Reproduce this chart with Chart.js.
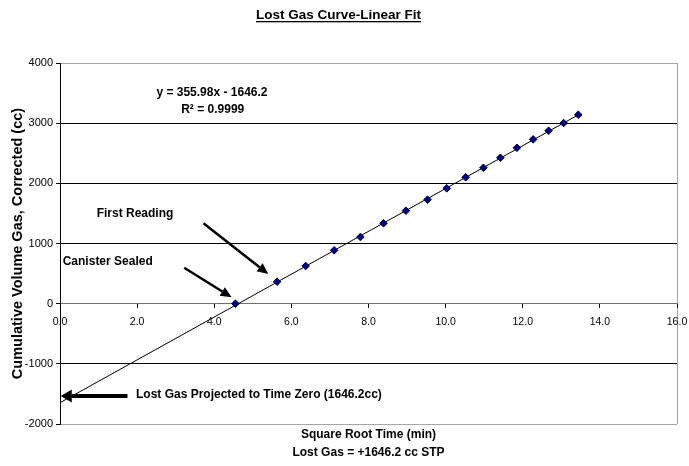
<!DOCTYPE html>
<html><head><meta charset="utf-8">
<script src="https://cdn.jsdelivr.net/npm/chart.js@4"></script>
<style>html,body{margin:0;padding:0;background:#fff}#wrap{width:689px;height:466px;position:relative}</style>
</head><body><div id="wrap"><canvas id="c" width="689" height="466"></canvas></div>
<script>
// ---- data ----
const sqrtTime = [4.55, 5.63, 6.37, 7.11, 7.79, 8.39, 8.97, 9.53, 10.03, 10.52, 10.98, 11.42, 11.85, 12.27, 12.67, 13.06, 13.44];
const cumulativeGas = [0, 365, 626, 887, 1108, 1336, 1545, 1728, 1917, 2100, 2259, 2425, 2591, 2731, 2874, 3002, 3140];
const trendX = [0, 13.44];
const trendY = [-1646.2, 3138.2];
const xTicks = [0, 2, 4, 6, 8, 10, 12, 14, 16];
const yTicks = [-2000, -1000, 0, 1000, 2000, 3000, 4000];
const chartTitle = 'Lost Gas Curve-Linear Fit';
const yTitle = 'Cumulative Volume Gas, Corrected (cc)';
const xTitleLines = ['Square Root Time (min)', 'Lost Gas = +1646.2 cc STP'];
const equationLines = ['y = 355.98x - 1646.2', 'R\u00B2 = 0.9999'];
const noteTexts = ['First Reading', 'Canister Sealed', 'Lost Gas Projected to Time Zero (1646.2cc)'];

const FONT = '"Liberation Sans", Arial, sans-serif';

// annotation anchors in data units
const equationAnchor = [{x: 3.94, y: 3500}, {x: 3.96, y: 3225}];
const noteAnchors = [{x: 0.95, y: 1490}, {x: 0.07, y: 698}, {x: 1.97, y: -1517}];
const arrows = [
  {from: [3.72, 1336], to: [5.40, 493], w: 2.5, head: 11, hw: 10},
  {from: [3.22, 598], to: [4.45, 106], w: 2.5, head: 11, hw: 10},
  {from: [1.75, -1533], to: [0.02, -1533], w: 4, head: 11, hw: 13}
];

const points = sqrtTime.map((x, i) => ({x, y: cumulativeGas[i]}));
const trend = trendX.map((x, i) => ({x, y: trendY[i]}));

function drawArrow(ctx, x1, y1, x2, y2, w, head, hw) {
  const ang = Math.atan2(y2 - y1, x2 - x1);
  const bx = x2 - head * Math.cos(ang), by = y2 - head * Math.sin(ang);
  ctx.save();
  ctx.strokeStyle = '#000'; ctx.fillStyle = '#000';
  ctx.lineWidth = w; ctx.lineCap = 'butt';
  ctx.beginPath(); ctx.moveTo(x1, y1); ctx.lineTo(bx, by); ctx.stroke();
  ctx.beginPath();
  ctx.moveTo(x2, y2);
  ctx.lineTo(bx + hw / 2 * Math.sin(ang), by - hw / 2 * Math.cos(ang));
  ctx.lineTo(bx - hw / 2 * Math.sin(ang), by + hw / 2 * Math.cos(ang));
  ctx.closePath(); ctx.fill();
  ctx.restore();
}

const decor = {
  id: 'decor',
  beforeDraw(chart) {
    const c = chart.ctx;
    c.save(); c.fillStyle = '#fff'; c.fillRect(0, 0, chart.width, chart.height); c.restore();
  },
  afterDraw(chart) {
    const c = chart.ctx, xs = chart.scales.x, ys = chart.scales.y, ca = chart.chartArea;
    c.save();
    c.fillStyle = '#000';
    c.textBaseline = 'middle';
    // title (underlined)
    c.font = 'bold 13.5px ' + FONT;
    c.textAlign = 'center';
    const tx = 338.5, ty = 15;
    c.fillText(chartTitle, tx, ty);
    const tw = c.measureText(chartTitle).width;
    c.fillRect(tx - tw / 2, ty + 6, tw, 1.3);
    // x-axis title lines
    c.font = 'bold 12px ' + FONT;
    const cx = (ca.left + ca.right) / 2;
    c.fillText(xTitleLines[0], cx, ca.bottom + 11);
    c.fillText(xTitleLines[1], cx, ca.bottom + 29);
    // equation
    equationLines.forEach((t, i) => {
      c.fillText(t, xs.getPixelForValue(equationAnchor[i].x), ys.getPixelForValue(equationAnchor[i].y));
    });
    // notes
    c.textAlign = 'left';
    noteTexts.forEach((t, i) => {
      c.fillText(t, xs.getPixelForValue(noteAnchors[i].x), ys.getPixelForValue(noteAnchors[i].y));
    });
    c.restore();
    arrows.forEach(a => drawArrow(c,
      xs.getPixelForValue(a.from[0]), ys.getPixelForValue(a.from[1]),
      xs.getPixelForValue(a.to[0]), ys.getPixelForValue(a.to[1]), a.w, a.head, a.hw));
  }
};

new Chart(document.getElementById('c'), {
  type: 'scatter',
  data: {
    datasets: [
      {label: 'Data', data: points, pointStyle: 'rectRot', pointRadius: 3.8,
       backgroundColor: '#000080', borderColor: '#000040', borderWidth: 1, showLine: false},
      {label: 'Linear fit', data: trend, showLine: true, borderColor: '#000', borderWidth: 1,
       pointRadius: 0, fill: false}
    ]
  },
  options: {
    responsive: false, animation: false, devicePixelRatio: 1,
    layout: {padding: {left: 0, top: 63, right: 12, bottom: 42}},
    plugins: {legend: {display: false}, tooltip: {enabled: false}, title: {display: false}},
    scales: {
      x: {
        type: 'linear', min: 0, max: 16, position: {y: 0},
        afterBuildTicks: s => { s.ticks = xTicks.map(v => ({value: v})); },
        afterFit: s => { s.height = 0; s.paddingLeft = 0; s.paddingRight = 0; },
        grid: {color: ctx => (ctx.tick && ctx.tick.value === 16) ? '#a6a6a6' : 'rgba(0,0,0,0)',
               tickColor: '#000', tickLength: 4, drawOnChartArea: true},
        border: {display: true, color: '#6e6e6e', width: 1},
        ticks: {color: '#000', font: {family: FONT, size: 10.5}, padding: 8, maxRotation: 0,
                callback: v => Number(v).toFixed(1)}
      },
      y: {
        type: 'linear', min: -2000, max: 4000, position: 'left',
        afterBuildTicks: s => { s.ticks = yTicks.map(v => ({value: v})); },
        afterFit: s => { s.width = 60; s.paddingTop = 0; s.paddingBottom = 0; },
        grid: {color: ctx => {
                 const v = ctx.tick && ctx.tick.value;
                 if (v === 4000 || v === -2000) return '#a6a6a6';
                 if (v === 0) return '#6e6e6e';
                 return '#000';
               }, tickColor: '#000', tickLength: 4},
        border: {display: true, color: '#000', width: 1},
        ticks: {color: '#000', font: {family: FONT, size: 11}, padding: 3,
                callback: v => String(v)},
        title: {display: true, text: yTitle, color: '#000',
                font: {family: FONT, size: 14.5, weight: 'bold'}, padding: {top: 9, bottom: 0}}
      }
    }
  },
  plugins: [decor]
});
</script>
</body></html>
